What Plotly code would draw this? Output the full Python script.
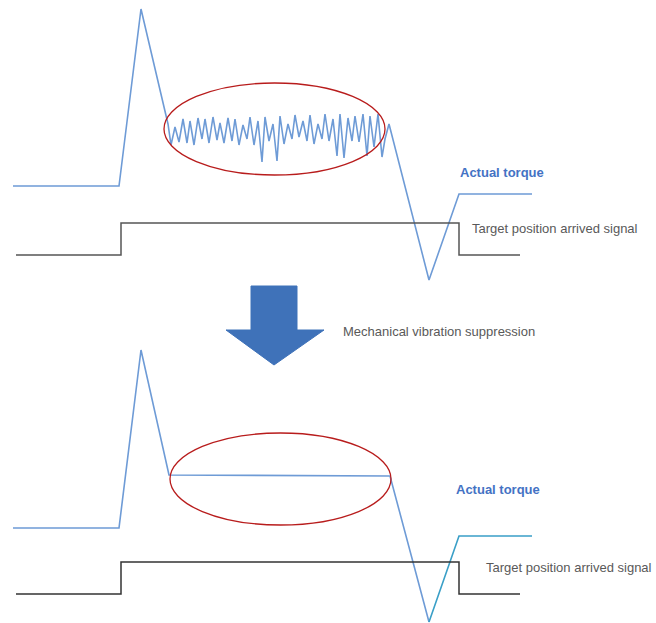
import plotly.graph_objects as go

W, H = 656, 623

# ---- data (diagram coordinates, pixel space; y grows downward) ----
# top: actual torque with vibration
top_torque_x = [13, 119, 141,
                168, 171, 175, 179, 183, 187, 190, 194, 198, 202, 205, 209, 213, 217, 220, 224,
                228, 232, 235, 239, 243, 247, 250, 254, 258, 262, 265, 269, 273, 277, 280, 284,
                288, 292, 295, 299, 303, 307, 310, 314, 318, 322, 325, 329, 333, 337, 340, 344,
                348, 352, 355, 359, 363, 367, 370, 374, 378, 382, 385, 389,
                429, 459, 532]
top_torque_y = [186, 186, 9,
                124, 145, 127, 142, 119, 143, 121, 145, 118, 139, 119, 143, 117, 140, 123, 143,
                118, 141, 119, 145, 125, 139, 117, 145, 121, 162, 117, 141, 124, 161, 116, 144,
                124, 139, 115, 137, 121, 141, 115, 144, 124, 139, 114, 141, 119, 156, 114, 158,
                118, 141, 116, 142, 114, 156, 116, 147, 114, 157, 139, 124,
                280, 194, 194]

top_signal_x = [16, 121, 121, 459, 459, 520]
top_signal_y = [255, 255, 223, 223, 255, 255]

# bottom: actual torque after suppression
bot_torque_x = [13, 119, 141, 169, 390, 429]
bot_torque_y = [528, 528, 350, 475, 476, 622]
bot_tail_x = [429, 459, 532]
bot_tail_y = [622, 536, 536]

bot_signal_x = [16, 121, 121, 459, 459, 520]
bot_signal_y = [594, 594, 562, 562, 594, 594]

# ellipses (x0, x1, y0, y1)
ellipses = [(164, 385, 83, 175), (170, 391, 433, 525)]

# arrow polygon
arrow_x = [251, 297, 297, 324, 274, 226, 251, 251]
arrow_y = [286, 286, 330, 330, 365, 330, 330, 286]

labels = [
    ("Actual torque", 458, 172, "#4472C4", True),
    ("Target position arrived signal", 470, 228, "#595959", False),
    ("Mechanical vibration suppression", 341, 331, "#595959", False),
    ("Actual torque", 454, 489, "#4472C4", True),
    ("Target position arrived signal", 484, 567, "#595959", False),
]

TORQUE = "#6E9BD6"
fig = go.Figure()

fig.add_trace(go.Scatter(x=top_torque_x, y=top_torque_y, mode="lines",
                         line=dict(color=TORQUE, width=1.6), hoverinfo="skip"))
fig.add_trace(go.Scatter(x=top_signal_x, y=top_signal_y, mode="lines",
                         line=dict(color="#555555", width=1.5), hoverinfo="skip"))
fig.add_trace(go.Scatter(x=bot_torque_x, y=bot_torque_y, mode="lines",
                         line=dict(color=TORQUE, width=1.6), hoverinfo="skip"))
fig.add_trace(go.Scatter(x=bot_tail_x, y=bot_tail_y, mode="lines",
                         line=dict(color="#3A9FC7", width=1.6), hoverinfo="skip"))
fig.add_trace(go.Scatter(x=bot_signal_x, y=bot_signal_y, mode="lines",
                         line=dict(color="#333333", width=1.5), hoverinfo="skip"))
fig.add_trace(go.Scatter(x=arrow_x, y=arrow_y, mode="lines", fill="toself",
                         fillcolor="#3F72B9", line=dict(color="#3F72B9", width=1),
                         hoverinfo="skip"))

for (x0, x1, y0, y1) in ellipses:
    fig.add_shape(type="circle", xref="x", yref="y", x0=x0, x1=x1, y0=y0, y1=y1,
                  line=dict(color="#B81C1C", width=1.3))

for text, x, y, color, bold in labels:
    fig.add_annotation(x=x, y=y, xref="x", yref="y", text=f"<b>{text}</b>" if bold else text,
                       showarrow=False, xanchor="left", yanchor="middle",
                       font=dict(family="Liberation Sans, Arial, sans-serif", size=13, color=color))

fig.update_layout(
    width=W, height=H, margin=dict(l=0, r=0, t=0, b=0),
    paper_bgcolor="white", plot_bgcolor="white", showlegend=False,
    xaxis=dict(range=[0, W], visible=False, fixedrange=True),
    yaxis=dict(range=[H, 0], visible=False, fixedrange=True),
)

fig.write_html("out.html", config={"displayModeBar": False},
               post_script="document.body.style.margin='0';document.body.style.overflow='hidden';")
